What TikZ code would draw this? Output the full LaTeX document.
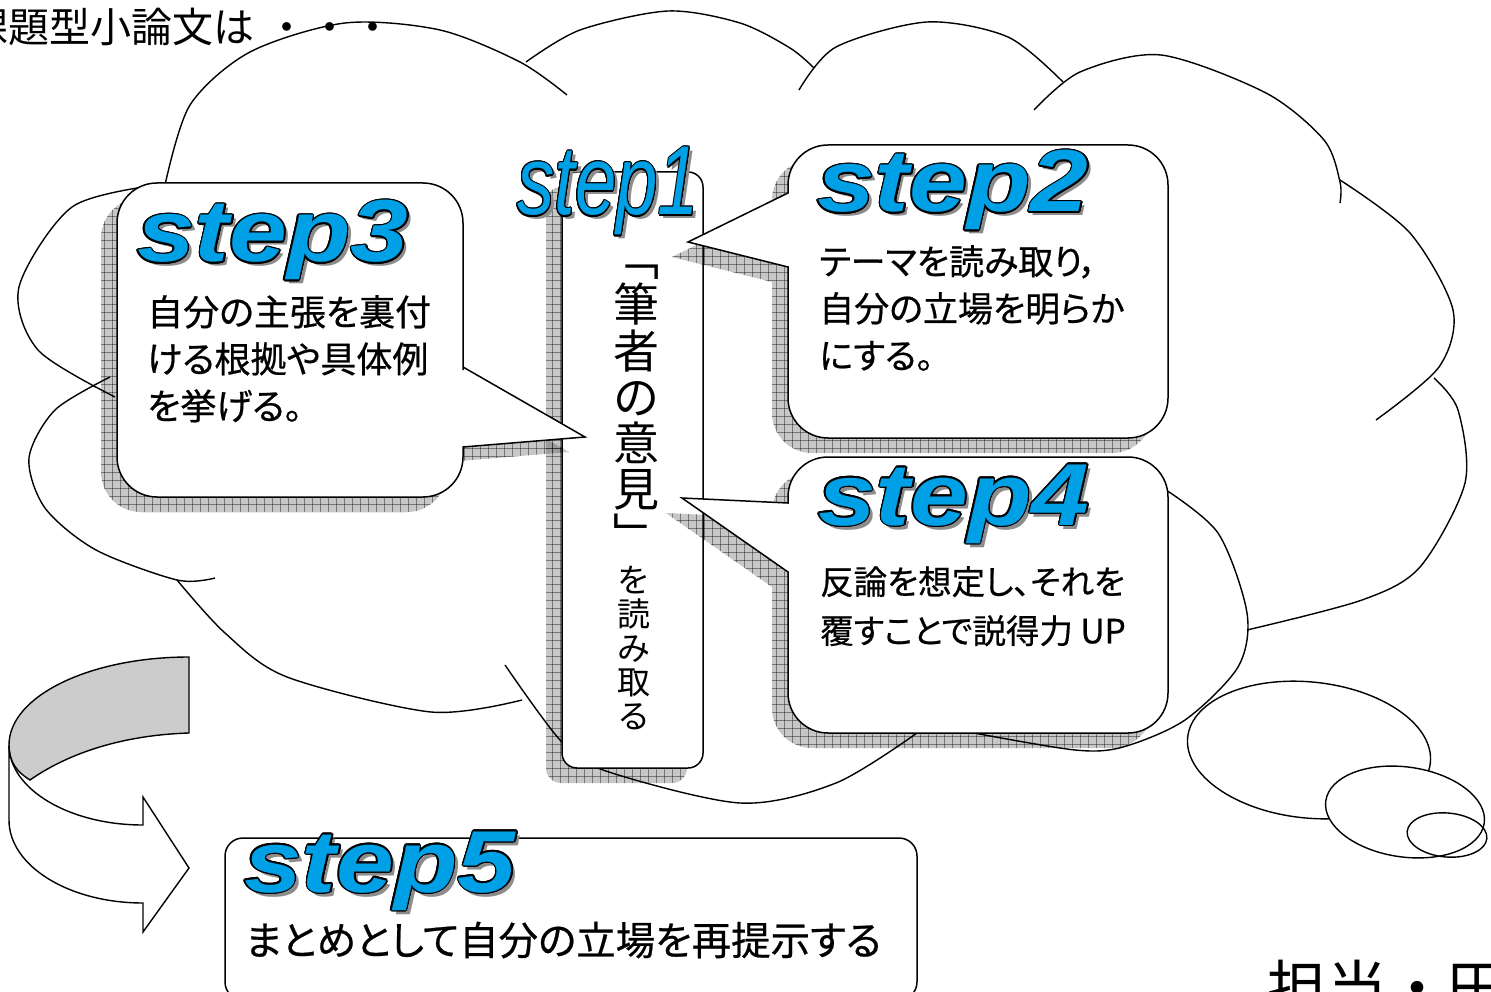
\documentclass[tikz,border=0pt]{standalone}
\usepackage{fontspec}
\setmainfont{Liberation Sans}
\newfontfamily\jp{Noto Sans CJK JP}
\newfontfamily\jpp{Noto Sans CJK JP}[RawFeature=+palt, FakeBold=0.6]
\usepackage[copies]{contour}
\contourlength{1.3pt}
\usetikzlibrary{patterns}

\definecolor{stepblue}{RGB}{0,160,230}

% grid texture for the shadows
\pgfdeclarepatternformonly{shadegrid}{\pgfqpoint{-1pt}{-1pt}}{\pgfqpoint{9pt}{9pt}}{\pgfqpoint{8pt}{8pt}}{%
  \pgfsetlinewidth{0.7pt}%
  \pgfpathmoveto{\pgfqpoint{0pt}{0pt}}\pgfpathlineto{\pgfqpoint{8pt}{0pt}}%
  \pgfpathmoveto{\pgfqpoint{0pt}{0pt}}\pgfpathlineto{\pgfqpoint{0pt}{8pt}}%
  \pgfusepath{stroke}}

\begin{document}
\begin{tikzpicture}[x=1pt, y=-1pt,
    cloudline/.style={line width=1.4pt},
    bubble/.style={draw, fill=white, line width=1.5pt},
    boxshade/.style={
      preaction={fill=black!22, blend mode=multiply, transform canvas={shift={(-16pt,-15pt)}}},
      preaction={pattern=shadegrid, pattern color=black!40, blend mode=multiply, transform canvas={shift={(-16pt,-15pt)}}}},
    steplabel/.style={anchor=base west, inner sep=0pt, font=\fontsize{88}{88}\selectfont\bfseries\itshape},
    stepshade/.style={steplabel, text=black!45},
    jptext/.style={anchor=north west, inner sep=0pt, align=left}]

    \useasboundingbox (0,0) rectangle (1491,992);
    \clip (0,0) rectangle (1491,992);

    % the big cloud, bump by bump
    \draw[cloudline] plot[smooth] coordinates {(165,185) (190,105) (250,52) (345,23) (440,30) (520,62) (567,95)};
    \draw[cloudline] plot[smooth] coordinates {(526,62) (580,30) (668,11) (740,23) (790,48) (814,68)};
    \draw[cloudline] plot[smooth] coordinates {(799,90) (836,47) (927,22) (1008,37) (1063,82)};
    \draw[cloudline] plot[smooth] coordinates {(1034,110) (1080,72) (1161,55) (1266,93) (1324,140) (1340,182) (1340,203)};
    \draw[cloudline] plot[smooth] coordinates {(1340,180) (1410,233) (1453,310) (1439,367) (1376,420)};
    \draw[cloudline] plot[smooth] coordinates {(1434,378) (1458,410) (1465,483) (1420,567) (1362,600) (1247,630)};
    \draw[cloudline] plot[smooth] coordinates {(1163,488) (1218,533) (1247,613) (1238,667) (1185,720) (1123,747) (1075,750) (974,733)};
    \draw[cloudline] plot[smooth] coordinates {(917,733) (836,783) (740,803) (603,770) (560,740) (505,665)};
    \draw[cloudline] plot[smooth] coordinates {(522,700) (431,712) (287,677) (225,633) (177,580)};
    \draw[cloudline] plot[smooth] coordinates {(110,377) (55,410) (29,458) (45,508) (96,550) (177,580) (215,578)};
    \draw[cloudline] plot[smooth] coordinates {(158,185) (72,207) (19,287) (38,350) (115,397)};

    % thought bubbles
    \draw[cloudline, fill=white, rotate around={-6:(1309,750)}] (1309,750) ellipse [x radius=122, y radius=68];
    \draw[cloudline, fill=white, rotate around={-8:(1405,812)}] (1405,812) ellipse [x radius=80, y radius=45];
    \draw[cloudline, rotate around={-5:(1447,835)}] (1447,835) ellipse [x radius=40, y radius=22];

    % u-turn arrow
    \filldraw[line width=1.4pt, fill=black!20] (189,657) .. controls (90,657) and (9,696) .. (9,745)
        .. controls (9,762) and (17,772) .. (30,780) .. controls (70,752) and (125,735) .. (189,733) -- cycle;
    \filldraw[line width=1.4pt, fill=white] (9,745) -- (9,820) .. controls (9,866) and (69,903) .. (143,903)
        -- (143,932) -- (189,868) -- (143,797) -- (143,825) .. controls (69,825) and (9,789) .. (9,745) -- cycle;

    % step1 column
    \draw[bubble, boxshade, rounded corners=15] (562,172) rectangle (703,768);

    % step3 bubble
    \draw[bubble, boxshade] (290,183) [rounded corners=40] -- (463,183) -- (463,330) [sharp corners] -- (463,367)
        -- (585,437) -- (463,447) -- (463,455) [rounded corners=40] -- (463,497) -- (117,497) -- (117,183) -- cycle;

    % step2 bubble
    \draw[bubble, boxshade] (978,145) [rounded corners=40] -- (1168,145) -- (1168,438) -- (788,438) -- (788,320) [sharp corners]
        -- (788,267) -- (688,242) -- (788,193) -- (788,188) [rounded corners=40] -- (788,145) -- cycle;

    % step4 bubble
    \draw[bubble, boxshade] (978,457) [rounded corners=40] -- (1168,457) -- (1168,733) -- (788,733) -- (788,620) [sharp corners]
        -- (788,572) -- (682,498) -- (788,503) -- (788,500) [rounded corners=40] -- (788,457) -- cycle;

    % step5 box
    \draw[bubble, rounded corners=18] (225,838) rectangle (917,1000);

    % word art labels
    \node[stepshade, font=\fontsize{98}{98}\selectfont\itshape] (s1sh) at (521,219) {\scalebox{0.76}[1]{step1}};
    \node[steplabel, font=\fontsize{98}{98}\selectfont\itshape, text=stepblue] (s1) at (517,215) {\scalebox{0.76}[1]{\contour{black}{step1}}};
    \node[stepshade] (s3sh) at (141,266) {\scalebox{1.18}[1]{step3}};
    \node[steplabel, text=stepblue] (s3) at (137,262) {\scalebox{1.18}[1]{\contour{black}{step3}}};
    \node[stepshade] (s2sh) at (821,216) {\scalebox{1.18}[1]{step2}};
    \node[steplabel, text=stepblue] (s2) at (817,212) {\scalebox{1.18}[1]{\contour{black}{step2}}};
    \node[stepshade] (s4sh) at (822,529) {\scalebox{1.18}[1]{step4}};
    \node[steplabel, text=stepblue] (s4) at (818,525) {\scalebox{1.18}[1]{\contour{black}{step4}}};
    \node[stepshade] (s5sh) at (248,896) {\scalebox{1.18}[1]{step5}};
    \node[steplabel, text=stepblue] (s5) at (244,892) {\scalebox{1.18}[1]{\contour{black}{step5}}};

    % texts
    \node[jptext, font=\jpp\fontsize{36}{47}\selectfont] (t3) at (147,295) {自分の主張を裏付\\ける根拠や具体例\\を挙げる。};
    \node[jptext, font=\jpp\fontsize{35}{47}\selectfont] (t2) at (819,245) {テーマを読み取り，\\自分の立場を明らか\\にする。};
    \node[jptext, font=\jpp\fontsize{33.5}{49}\selectfont] (t4) at (820,566) {反論を想定し、それを\\覆すことで説得力 UP};
    \node[anchor=base west, inner sep=0pt, font=\jpp\fontsize{39.5}{40}\selectfont] (t5) at (245,955) {まとめとして自分の立場を再提示する};

    \foreach \c [count=\i] in {﹁,筆,者,の,意,見,﹂}
      \node[anchor=base, inner sep=0pt, font=\jp\fontsize{46}{46}\selectfont] (big\i) at (636,230+46*\i) {\c};
    \foreach \c [count=\i] in {を,読,み,取,る}
      \node[anchor=base, inner sep=0pt, font=\jp\fontsize{33}{33}\selectfont] (small\i) at (634,558+34*\i) {\c};

    \node[anchor=base west, inner sep=0pt, font=\jp\fontsize{41}{41}\selectfont] (title) at (-33,43) {課題型小論文は\kern12pt・\kern2pt・\kern2pt・};
    \node[anchor=base west, inner sep=0pt, font=\jp\fontsize{60}{60}\selectfont] (author) at (1267,1010) {担当・田};
\end{tikzpicture}
\end{document}
